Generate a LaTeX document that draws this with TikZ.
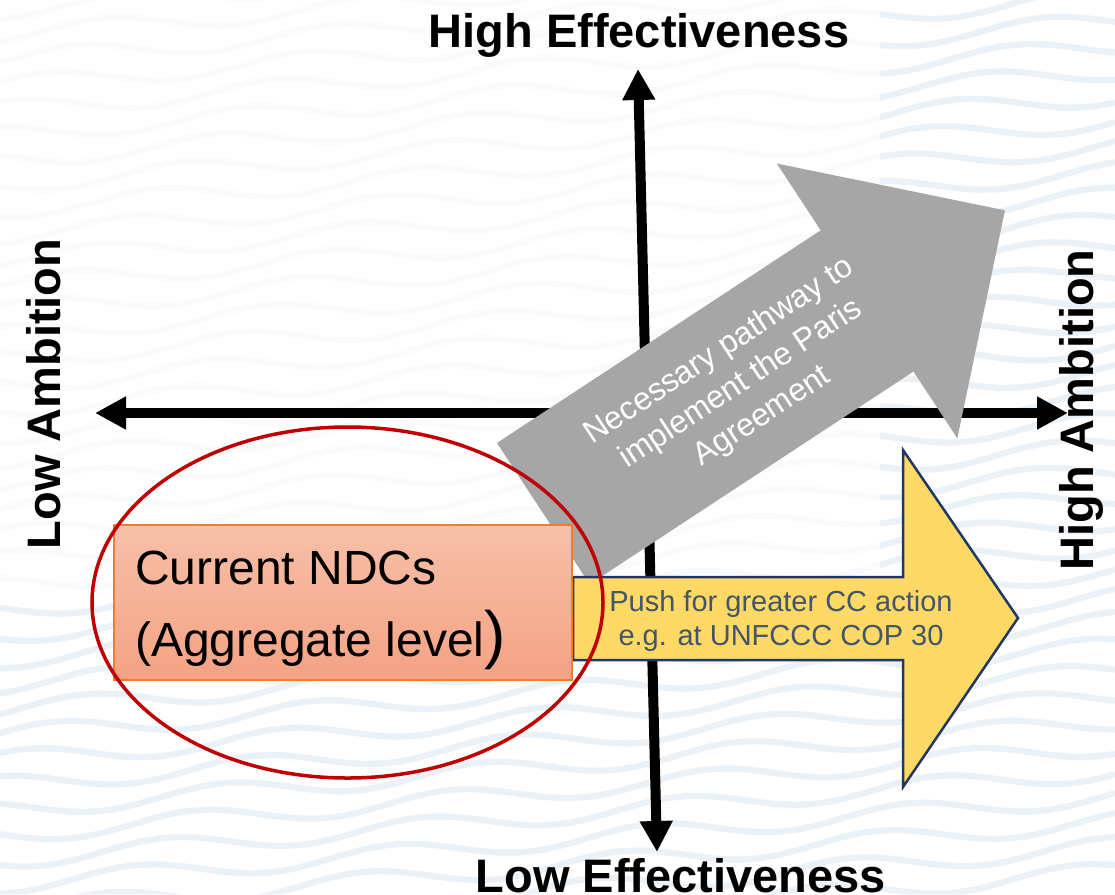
\documentclass[tikz,border=0pt]{standalone}
\usepackage{fontspec}
\setmainfont{Liberation Sans}
\usetikzlibrary{arrows.meta}
\definecolor{graycol}{HTML}{A6A6A6}
\definecolor{yelfill}{HTML}{FFD966}
\definecolor{yeldraw}{HTML}{1F3864}
\definecolor{yeltext}{HTML}{44546A}
\definecolor{ndctop}{HTML}{F7C0A9}
\definecolor{ndcbot}{HTML}{F4A283}
\definecolor{ndcdraw}{HTML}{ED7D31}
\definecolor{ellred}{HTML}{C00000}
\definecolor{wavefaint}{HTML}{F8FAFC}
\definecolor{wavestrong}{HTML}{EAF1F7}
\tikzset{
  axisline/.style={line width=10pt, black, {Triangle[width=31pt,length=31pt]}-{Triangle[width=31pt,length=31pt]}},
  axislabel/.style={font=\fontsize{47}{56}\selectfont\bfseries, inner sep=0pt},
  wavefaintline/.style={line width=6pt, wavefaint},
  wavestrongline/.style={line width=6pt, wavestrong},
  grayarrow/.style={fill=graycol, draw=none},
  yelarrow/.style={fill=yelfill, draw=yeldraw, line width=2.5pt, line join=miter},
  ndcbox/.style={draw=ndcdraw, line width=1.5pt, top color=ndctop, bottom color=ndcbot, inner sep=0pt},
  ndctext/.style={font=\fontsize{48}{58}\selectfont, inner sep=0pt, anchor=base west},
  yeltxt/.style={font=\fontsize{29}{34}\selectfont, text=yeltext, align=center, inner sep=0pt},
  graytxt/.style={font=\fontsize{32}{39}\selectfont, text=white, align=center, inner sep=0pt},
  redellipse/.style={draw=ellred, line width=3.5pt}
}
\begin{document}
\begin{tikzpicture}[x=1pt,y=-1pt]
\useasboundingbox (0,0) rectangle (1115,894);
\fill[white] (0,0) rectangle (1115,894);
% background waves
\begin{scope}
\clip (0,0) rectangle (1115,894);
\foreach \k in {0,...,40} {
  \draw[wavefaintline] plot[domain=0:1115, samples=50, smooth] (\x, {\k*25 - 40 + 9*sin(1.4*\x + 41*\k) - 0.08*\x});
}
\clip (0,600) -- (880,600) -- (880,0) -- (1115,0) -- (1115,894) -- (0,894) -- cycle;
\foreach \k in {0,...,40} {
  \draw[wavestrongline] plot[domain=0:1115, samples=50, smooth] (\x, {\k*25 - 40 + 9*sin(1.4*\x + 41*\k) - 0.08*\x});
}
\end{scope}
% axes
\coordinate (ytop) at (638,69);
\coordinate (ybot) at (657,852);
\coordinate (xleft) at (95,413);
\coordinate (xright) at (1068,413);
\draw[axisline] (ybot) -- (ytop);
\draw[axisline] (xleft) -- (xright);
% gray arrow
\begin{scope}[shift={(543.3,513.6)}, rotate=33.3]
\fill[grayarrow] (0,-84.5) -- (387.4,-84.5) -- (387.4,-164.4) -- (552.4,0) -- (387.4,164.4) -- (387.4,84.5) -- (0,84.5) -- cycle;
\end{scope}
\node[graytxt, rotate=33.3] (pathway) at (741,384) {Necessary pathway to\\implement the Paris\\Agreement};
% yellow arrow
\draw[yelarrow] (573,577) -- (903,577) -- (903,450) -- (1018,618) -- (903,787) -- (903,660) -- (573,660) -- cycle;
\node[yeltxt] (push) at (781,621) {Push for greater CC action\\e.g. at UNFCCC COP 30};
% current NDCs box
\node[ndcbox, minimum width=458pt, minimum height=155pt] (ndc) at (343,602.5) {};
\node[ndctext] (ndcline1) at (135,584) {Current NDCs};
\node[ndctext] (ndcline2) at (135,656) {(Aggregate level{\fontsize{64}{64}\selectfont)}};
% red ellipse
\draw[redellipse] (347.5,602.5) ellipse [x radius=255.5pt, y radius=175.5pt];
% axis labels
\node[axislabel, anchor=base] (higheff) at (639,47) {High Effectiveness};
\node[axislabel, anchor=base] (loweff) at (681,892) {Low Effectiveness};
\node[axislabel, anchor=base, rotate=90] (lowamb) at (60,394) {Low Ambition};
\node[axislabel, anchor=base, rotate=90] (highamb) at (1093,410) {High Ambition};
\end{tikzpicture}
\end{document}
